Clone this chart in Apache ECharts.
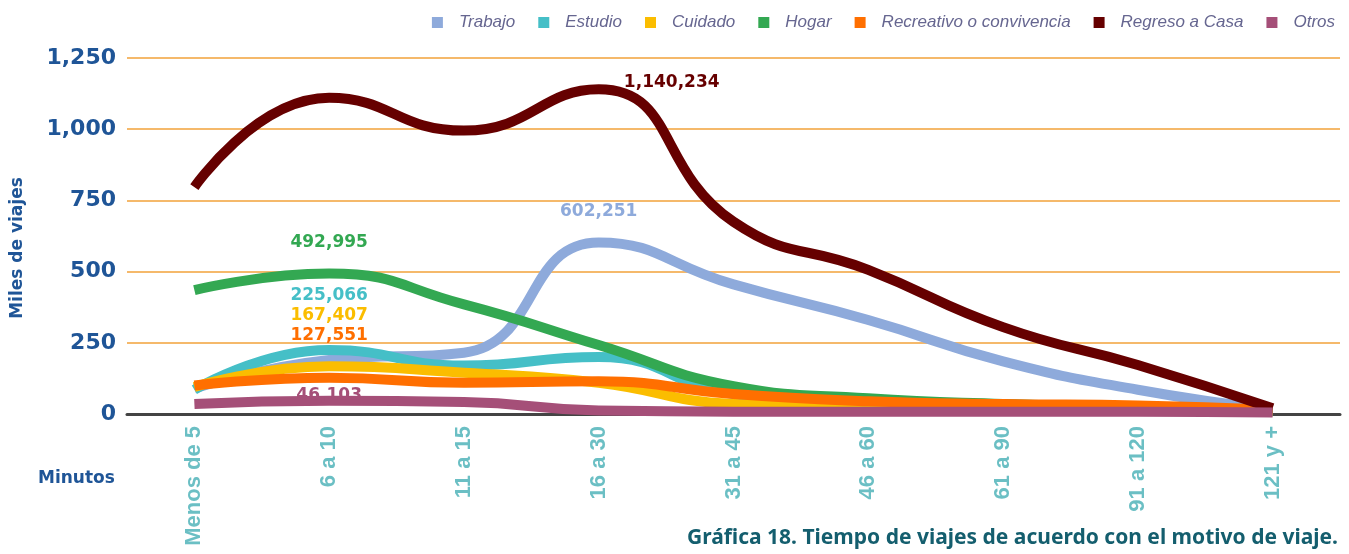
<!doctype html>
<html>
<head>
    <meta charset="utf-8">
    <title>Gráfica 18</title>
    <script src="https://cdn.jsdelivr.net/npm/echarts@6/dist/echarts.min.js"></script>
    <style>
        html, body { margin: 0; padding: 0; background: #fff; }
        #container { width: 1349px; height: 554px; }
    </style>
</head>
<body>
    <div id="container"></div>
    <script type="text/javascript">
        // categorias de tiempo (minutos)
        var categorias = ['Menos de 5', '6 a 10', '11 a 15', '16 a 30', '31 a 45', '46 a 60', '61 a 90', '91 a 120', '121 y +'];
        // viajes por motivo
        var trabajo = [90000, 190000, 215000, 602251, 455000, 330000, 185000, 85000, 15000];
        var estudio = [85000, 225066, 170000, 200000, 70000, 35000, 25000, 20000, 10000];
        var cuidado = [95000, 167407, 145000, 110000, 35000, 25000, 20000, 15000, 10000];
        var hogar = [435000, 492995, 385000, 242000, 98000, 55000, 35000, 25000, 10000];
        var recreativo = [100000, 127551, 110000, 115000, 70000, 45000, 35000, 30000, 15000];
        var regreso = [797000, 1110000, 995000, 1140234, 675000, 506000, 305000, 172000, 20000];
        var otros = [35000, 46103, 42000, 12000, 8000, 8000, 8000, 8000, 5000];
        var yTicks = [0, 250000, 500000, 750000, 1000000, 1250000];

        var colores = ['#8eaadb', '#45bfc7', '#fbbd00', '#33a852', '#ff6f00', '#660000', '#a54f78'];

        function fmt(v) {
            return String(v).replace(/\B(?=(\d{3})+(?!\d))/g, ',');
        }

        // marca solo el valor maximo con etiqueta
        function conEtiqueta(arr, idx, color, off) {
            return arr.map(function (v, i) {
                if (i !== idx) return v;
                return {
                    value: v,
                    label: {
                        show: true,
                        position: 'top',
                        offset: off,
                        color: color,
                        fontFamily: 'DejaVu Sans',
                        fontWeight: 'bold',
                        fontSize: 17,
                        formatter: function (p) { return fmt(p.value); }
                    }
                };
            });
        }

        function serie(nombre, arr, color, idx, off) {
            return {
                name: nombre,
                type: 'line',
                smooth: 0.5,
                symbol: 'circle',
                symbolSize: 0.1,
                showSymbol: true,
                lineStyle: { width: 10, color: color, cap: 'butt' },
                itemStyle: { color: color },
                data: conEtiqueta(arr, idx, color, off)
            };
        }

        var option = {
            animation: false,
            color: colores,
            legend: {
                top: 9,
                right: 9,
                itemWidth: 11,
                itemHeight: 11,
                itemGap: 23,
                icon: 'rect',
                textStyle: {
                    color: '#666690',
                    fontStyle: 'italic',
                    fontFamily: 'Liberation Sans',
                    fontSize: 17,
                    padding: [0, 0, 0, 11]
                }
            },
            grid: { left: 127, right: 9, top: 58, bottom: 140 },
            xAxis: {
                type: 'category',
                data: categorias,
                boundaryGap: true,
                axisLine: { lineStyle: { color: '#444', width: 3 } },
                axisTick: { show: false },
                axisLabel: {
                    rotate: 90,
                    margin: 12,
                    color: '#6bbfc4',
                    fontWeight: 'bold',
                    fontFamily: 'Liberation Sans',
                    fontSize: 22
                }
            },
            yAxis: {
                type: 'value',
                min: yTicks[0],
                max: yTicks[yTicks.length - 1],
                interval: 250000,
                axisLabel: {
                    margin: 11,
                    color: '#1f5597',
                    fontWeight: 'bold',
                    fontFamily: 'DejaVu Sans',
                    fontSize: 22,
                    formatter: function (v) { return fmt(v / 1000); }
                },
                splitLine: { lineStyle: { color: '#f5b96b', width: 2 } }
            },
            graphic: [{
                type: 'text',
                x: 18,
                y: 248,
                rotation: Math.PI / 2,
                style: {
                    text: 'Miles de viajes',
                    fill: '#1f5597',
                    font: 'bold 17px "DejaVu Sans"',
                    textAlign: 'center',
                    textVerticalAlign: 'middle'
                }
            }, {
                type: 'text',
                left: 38,
                top: 470,
                style: {
                    text: 'Minutos',
                    fill: '#1f5597',
                    font: 'bold 17px "DejaVu Sans"'
                }
            }, {
                type: 'text',
                right: 11,
                top: 528,
                style: {
                    text: 'Gráfica 18. Tiempo de viajes de acuerdo con el motivo de viaje.',
                    fill: '#145e6e',
                    font: 'bold 21px "Noto Sans"'
                }
            }],
            series: [
                serie('Trabajo', trabajo, colores[0], 3, [0, -17]),
                serie('Estudio', estudio, colores[1], 1, [0, -41]),
                serie('Cuidado', cuidado, colores[2], 1, [0, -37]),
                serie('Hogar', hogar, colores[3], 1, [0, -17]),
                serie('Recreativo o convivencia', recreativo, colores[4], 1, [0, -29]),
                serie('Regreso a Casa', regreso, colores[5], 3, [73, 7]),
                serie('Otros', otros, colores[6], 1, [0, 8])
            ]
        };

        var myChart = echarts.init(document.getElementById('container'));
        myChart.setOption(option);
    </script>
</body>
</html>
